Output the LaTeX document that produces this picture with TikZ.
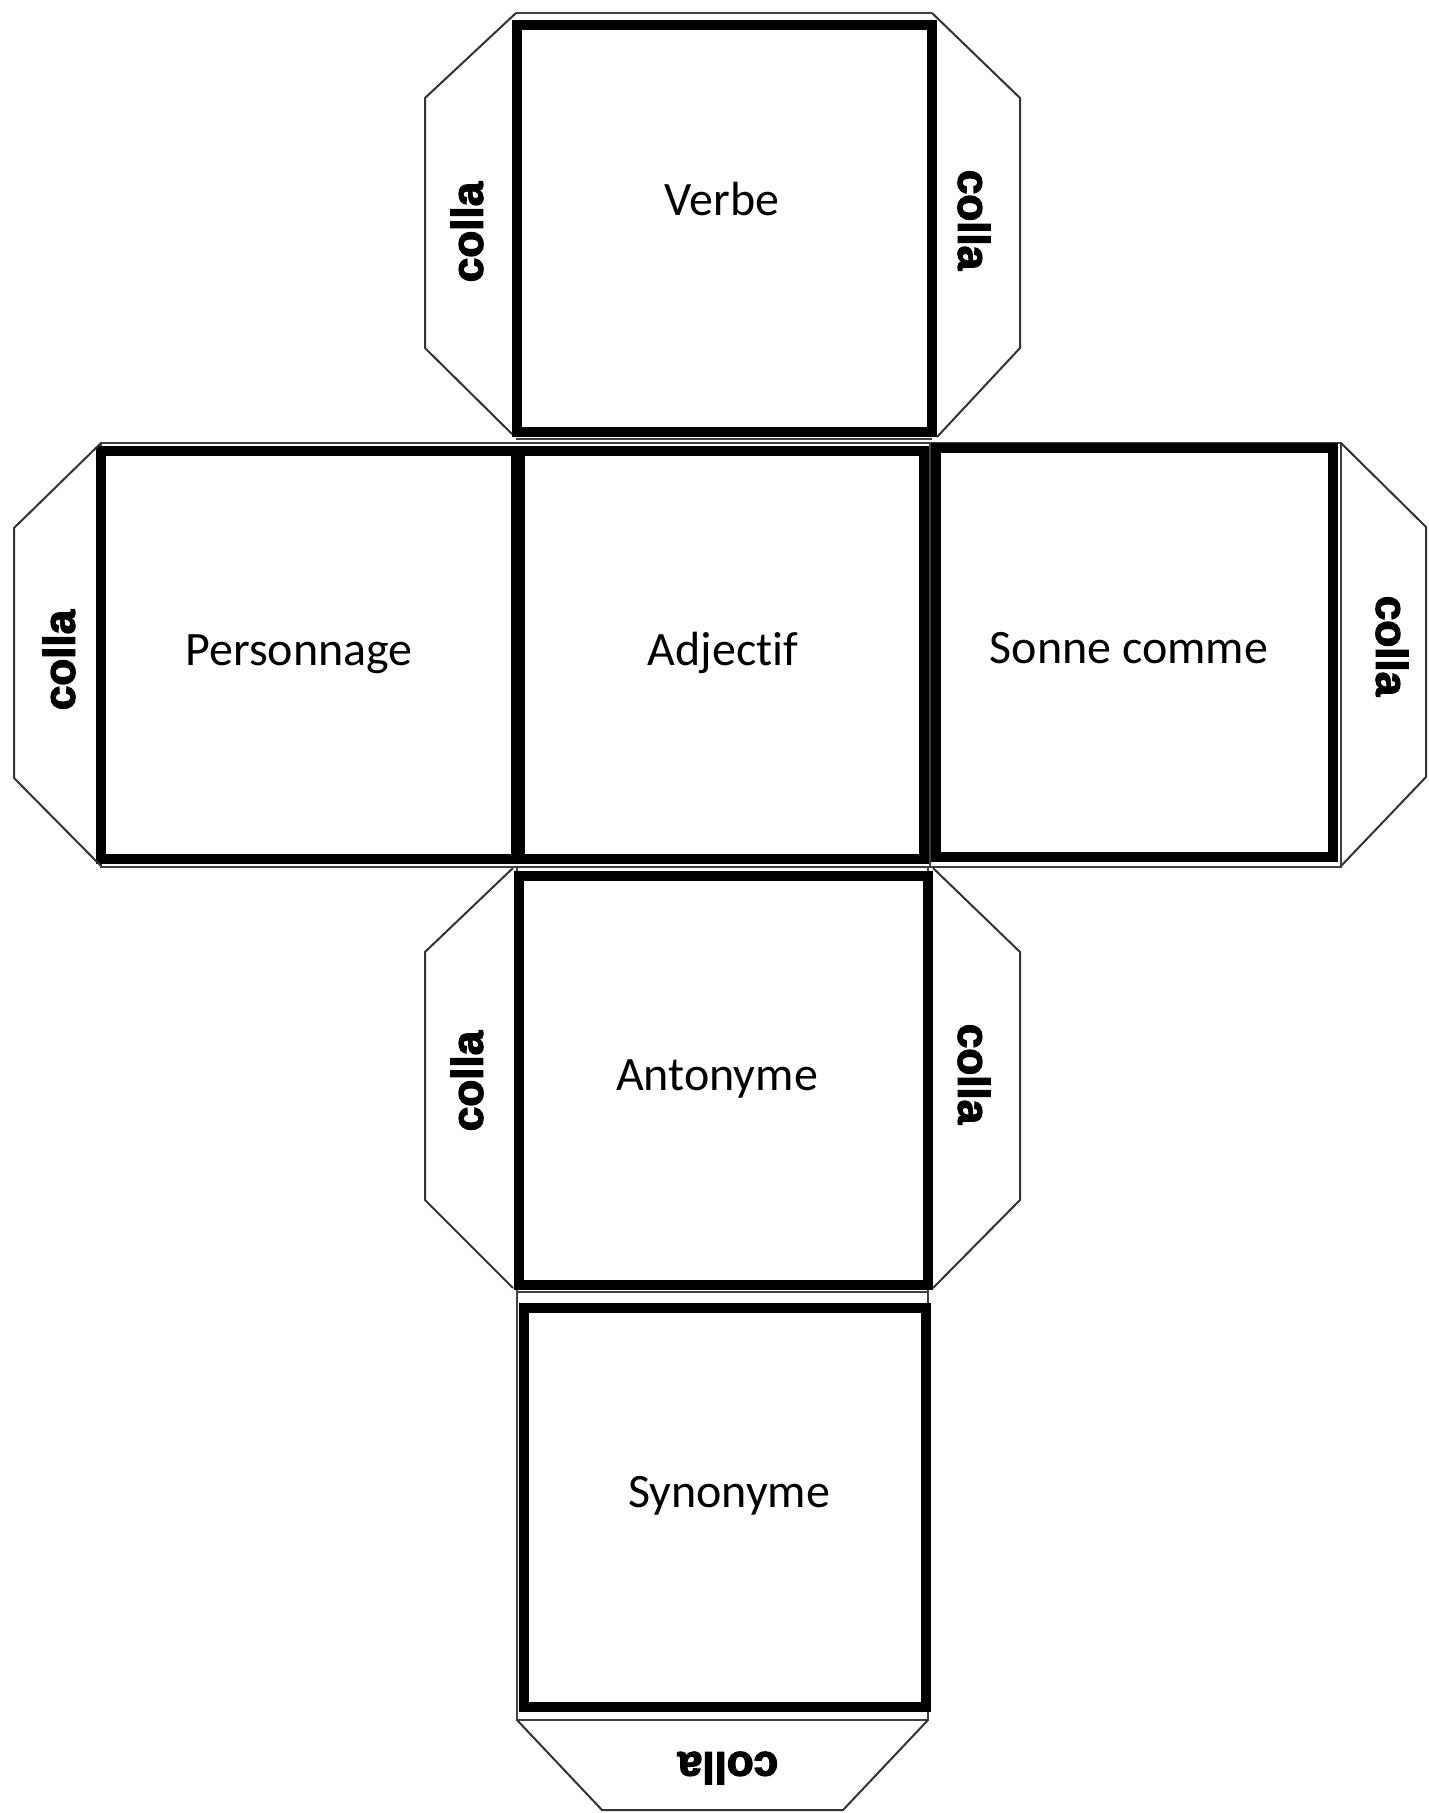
\documentclass[tikz,border=0pt]{standalone}
\usepackage{fontspec}
\setmainfont{Carlito}[Ligatures=NoCommon]
\newfontfamily\collafont{Liberation Sans}[BoldFeatures={FakeBold=3}]
\begin{document}
\begin{tikzpicture}[x=1pt,y=-1pt]
\tikzset{
  face/.style={draw, line width=10pt, rectangle, inner sep=0pt, outer sep=0pt},
  cutline/.style={draw=black!75, line width=1.6pt},
  flap/.style={draw=black!80, line width=2pt, line join=round},
  lbl/.style={font=\fontsize{48}{56}\selectfont, anchor=base, inner sep=0pt},
  colla/.style={font=\collafont\bfseries\fontsize{44}{50}\selectfont, inner sep=0pt},
}
\fill[white] (0,0) rectangle (1428,1813);
\useasboundingbox (0,0) rectangle (1428,1813);

% thin cut lines (outer outlines of the net)
\draw[cutline] (516,13) -- (932,13);
\draw[cutline] (516,439) -- (932,439);
\draw[cutline] (101,443) rectangle (1341,867);
\draw[cutline] (930,443) -- (930,867);
\draw[cutline] (517,867) -- (517,1292) -- (928,1292) -- (928,867);
\draw[cutline] (517,1292) rectangle (928,1720);

% faces
\node[face, minimum width=415pt, minimum height=407pt] (verbe) at (724.5,228.5) {};
\node[face, minimum width=415pt, minimum height=408pt] (perso) at (308.5,655) {};
\node[face, minimum width=404pt, minimum height=408pt] (adj) at (722,655) {};
\node[face, minimum width=397pt, minimum height=409pt] (sonne) at (1134.5,652.5) {};
\node[face, minimum width=409pt, minimum height=409pt] (anto) at (723.5,1080.5) {};
\node[face, minimum width=402pt, minimum height=399pt] (syno) at (725,1507.5) {};

% labels
\node[lbl] (tverbe) at (722,215) {Verbe};
\node[lbl] (tperso) at (299,665) {Personnage};
\node[lbl] (tadj) at (723,665) {Adjectif};
\node[lbl] (tsonne) at (1129,663) {Sonne comme};
\node[lbl] (tanto) at (717,1090) {Antonyme};
\node[lbl] (tsyno) at (729,1507) {Synonyme};

% flaps
\draw[flap] (516,13) -- (425,98) -- (425,348) -- (512,434);
\draw[flap] (932,13) -- (1020,98) -- (1020,348) -- (937,437);
\draw[flap] (101,443) -- (14,528) -- (14,778) -- (101,866);
\draw[flap] (1341,443) -- (1426,527) -- (1426,777) -- (1341,866);
\draw[flap] (513,868) -- (425,952) -- (425,1200) -- (513,1288);
\draw[flap] (933,868) -- (1020,952) -- (1020,1200) -- (933,1288);
\draw[flap] (517,1720) -- (602,1810) -- (843,1810) -- (928,1720);

% colla labels
\node[colla, rotate=90] (c1) at (467,232) {colla};
\node[colla, rotate=-90] (c2) at (974,220) {colla};
\node[colla, rotate=90] (c3) at (59,660) {colla};
\node[colla, rotate=-90] (c4) at (1392,646) {colla};
\node[colla, rotate=90] (c5) at (467,1081) {colla};
\node[colla, rotate=-90] (c6) at (974,1074) {colla};
\node[colla, rotate=180] (c7) at (728,1768) {colla};
\end{tikzpicture}
\end{document}
